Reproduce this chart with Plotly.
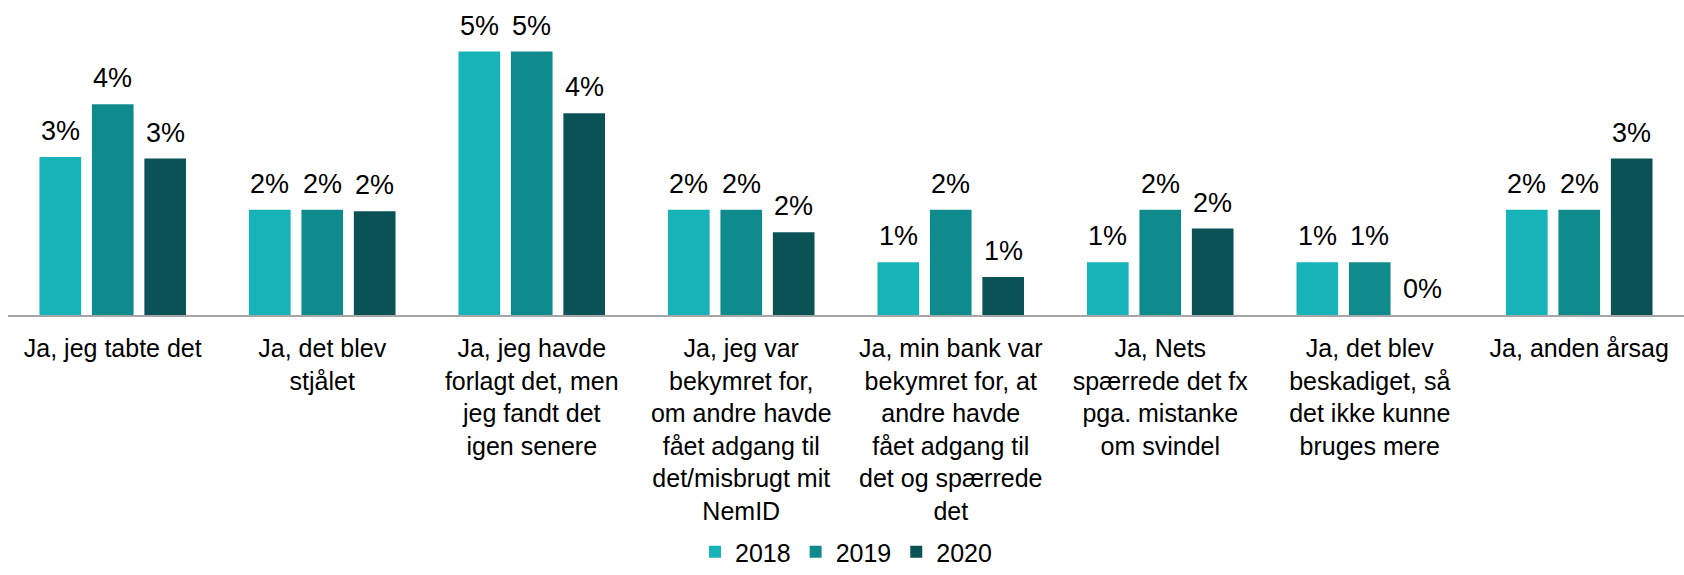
import plotly.graph_objects as go

# Reasons the card/NemID had to be replaced, share of respondents per year
categories = [
    "Ja, jeg tabte det",
    "Ja, det blev<br>stjålet",
    "Ja, jeg havde<br>forlagt det, men<br>jeg fandt det<br>igen senere",
    "Ja, jeg var<br>bekymret for,<br>om andre havde<br>fået adgang til<br>det/misbrugt mit<br>NemID",
    "Ja, min bank var<br>bekymret for, at<br>andre havde<br>fået adgang til<br>det og spærrede<br>det",
    "Ja, Nets<br>spærrede det fx<br>pga. mistanke<br>om svindel",
    "Ja, det blev<br>beskadiget, så<br>det ikke kunne<br>bruges mere",
    "Ja, anden årsag",
]
years = ["2018", "2019", "2020"]
values_2018 = [0.030, 0.020, 0.050, 0.020, 0.010, 0.010, 0.010, 0.020]
values_2019 = [0.040, 0.020, 0.050, 0.020, 0.020, 0.020, 0.010, 0.020]
values_2020 = [0.0297, 0.0197, 0.0383, 0.0157, 0.0072, 0.0164, 0.0, 0.0297]
colors = ["#16B3B8", "#108B8D", "#0B5257"]

FONT = "Liberation Sans, Arial, sans-serif"
series = [values_2018, values_2019, values_2020]

fig = go.Figure()
for name, vals, col in zip(years, series, colors):
    fig.add_trace(go.Bar(
        x=categories, y=vals, name=name,
        marker=dict(color=col, line=dict(width=0)),
        hoverinfo="skip",
    ))

# value labels above each bar, one per series offset within the group
bar_step = 52.4
for i, vals in enumerate(series):
    for cat, v in zip(categories, vals):
        fig.add_annotation(
            x=cat, y=v, text=f"{v:.0%}", showarrow=False,
            xref="x", yref="y", xanchor="center", yanchor="bottom",
            xshift=(i - 1) * bar_step, yshift=9,
            font=dict(family=FONT, size=27, color="#000000"),
        )

fig.update_layout(
    width=1684, height=575,
    margin=dict(l=8, r=0, t=0, b=260),
    paper_bgcolor="white", plot_bgcolor="white",
    barmode="group", bargap=0.249, bargroupgap=0.206,
    font=dict(family=FONT, size=25, color="#000000"),
    showlegend=True,
    legend=dict(
        orientation="h", x=0.5, xanchor="center",
        yref="container", y=0.0, yanchor="bottom",
        font=dict(family=FONT, size=25, color="#000000"),
        traceorder="normal", itemwidth=30,
    ),
    xaxis=dict(
        showline=True, linecolor="#A6A6A6", linewidth=2,
        showgrid=False, zeroline=False, ticks="",
        tickfont=dict(family=FONT, size=25, color="#000000"),
        tickangle=0, ticklabelstandoff=10, fixedrange=True,
    ),
    yaxis=dict(
        range=[0, 0.0598], visible=False, showgrid=False,
        zeroline=False, fixedrange=True,
    ),
)

fig.write_html("out.html")
